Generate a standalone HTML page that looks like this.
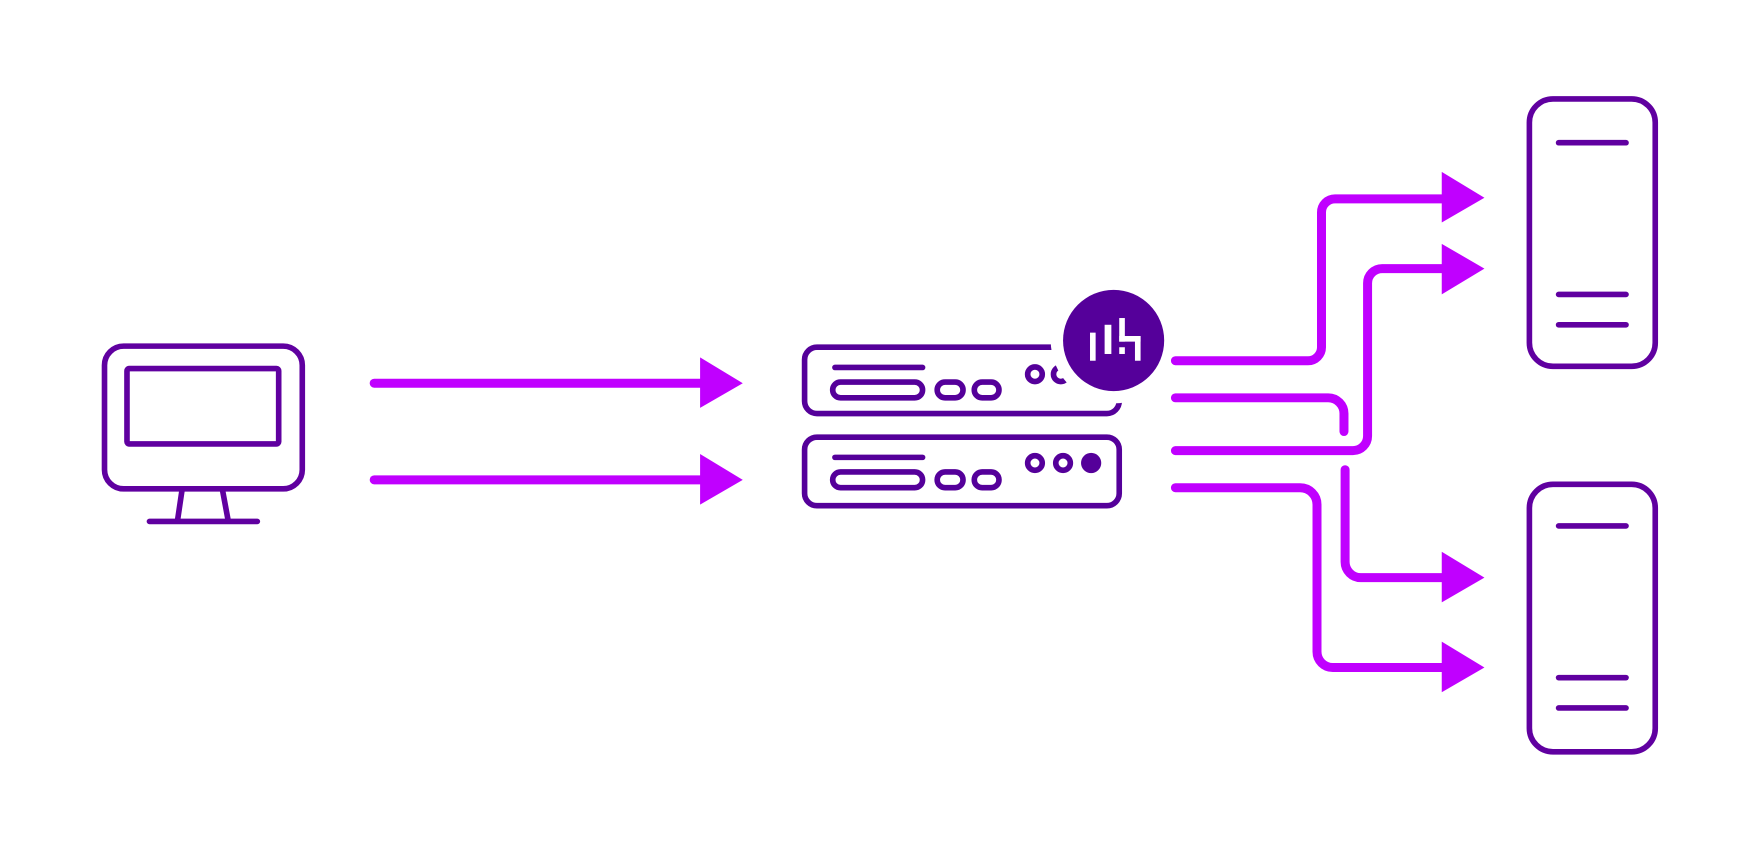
<!DOCTYPE html>
<html><head><meta charset="utf-8"><style>html,body{margin:0;padding:0;background:#fff}svg{display:block}</style></head>
<body>
<svg width="1762" height="848" viewBox="0 0 1568 754.6" preserveAspectRatio="none" xmlns="http://www.w3.org/2000/svg">
<g fill="none" stroke="#6000a0" stroke-width="5" stroke-linecap="round" stroke-linejoin="round">
 <rect x="93" y="308" width="176" height="127" rx="17"/>
 <rect x="113" y="328" width="135" height="67" rx="2"/>
 <line x1="162" y1="436" x2="158" y2="463"/>
 <line x1="198" y1="436" x2="203" y2="463"/>
 <line x1="133" y1="464" x2="229" y2="464"/>
</g>
<g fill="none" stroke="#55009a" stroke-width="5" stroke-linecap="round">
 <rect x="716" y="309" width="280" height="59" rx="11"/>
 <rect x="716" y="389" width="280" height="61" rx="11"/>
 <line x1="743" y1="327" x2="821" y2="327"/>
 <rect x="741" y="340" width="80" height="14" rx="7"/>
 <rect x="834" y="340" width="23" height="14" rx="7"/>
 <rect x="867" y="340" width="22" height="14" rx="7"/>
 <circle cx="921" cy="333" r="6.5"/>
 <circle cx="944" cy="333" r="6.5"/>
 <line x1="743" y1="407" x2="821" y2="407"/>
 <rect x="741" y="420" width="80" height="14" rx="7"/>
 <rect x="834" y="420" width="23" height="14" rx="7"/>
 <rect x="867" y="420" width="22" height="14" rx="7"/>
 <circle cx="921" cy="412" r="6.5"/>
 <circle cx="946" cy="412" r="6.5"/>
</g>
<circle cx="971" cy="412" r="9" fill="#55009a"/>
<circle cx="991" cy="303" r="56" fill="#fff"/>
<circle cx="991" cy="303" r="45" fill="#55009a"/>
<g fill="#fff">
 <rect x="970" y="296" width="5" height="25"/>
 <rect x="983" y="289" width="6" height="26"/>
 <rect x="996" y="283" width="5" height="21"/>
 <rect x="996" y="299" width="19" height="5"/>
 <rect x="1010" y="299" width="5" height="22"/>
 <rect x="996" y="309" width="5" height="6"/>
</g>
<g stroke="#c000ff" stroke-width="8" stroke-linecap="round" fill="none">
 <line x1="333" y1="341" x2="630" y2="341"/>
 <line x1="333" y1="427" x2="630" y2="427"/>
 <path d="M1046 321 H1164 A12 12 0 0 0 1176 309 V189 A12 12 0 0 1 1188 177 H1290"/>
 <path d="M1046 354 H1182 A14 14 0 0 1 1196 368 V384"/>
 <path d="M1046 401 H1204 A13 13 0 0 0 1217 388 V252 A13 13 0 0 1 1230 239 H1290"/>
 <path d="M1197 418 V500 A14 14 0 0 0 1211 514 H1290"/>
 <path d="M1046 434 H1157 A15 15 0 0 1 1172 449 V580 A14 14 0 0 0 1186 594 H1290"/>
</g>
<g fill="#c000ff">
 <polygon points="623,318 661,341 623,363"/>
 <polygon points="623,404 661,427 623,449"/>
 <polygon points="1283,153 1321,176 1283,198"/>
 <polygon points="1283,217 1321,239 1283,262"/>
 <polygon points="1283,491 1321,514 1283,536"/>
 <polygon points="1283,571 1321,594 1283,616"/>
</g>
<g fill="none" stroke="#6000a0" stroke-width="5" stroke-linecap="round">
 <rect x="1361" y="88" width="112" height="238" rx="21"/>
 <line x1="1387" y1="127" x2="1447" y2="127"/>
 <line x1="1387" y1="262" x2="1447" y2="262"/>
 <line x1="1387" y1="289" x2="1447" y2="289"/>
 <rect x="1361" y="431" width="112" height="238" rx="21"/>
 <line x1="1387" y1="468" x2="1447" y2="468"/>
 <line x1="1387" y1="603" x2="1447" y2="603"/>
 <line x1="1387" y1="630" x2="1447" y2="630"/>
</g>
</svg>
</body></html>
